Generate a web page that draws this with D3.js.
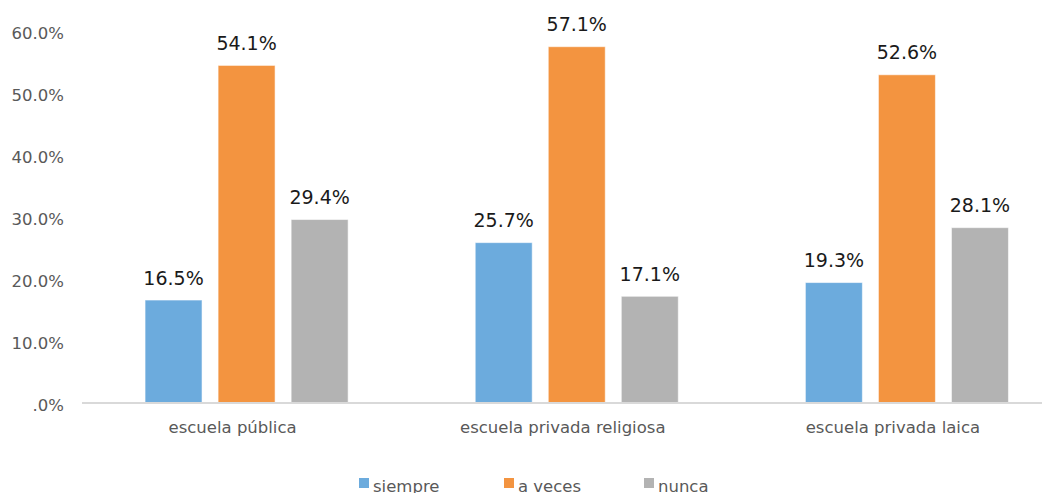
<!DOCTYPE html>
<html>
<head>
<meta charset="utf-8">
<script src="https://cdn.jsdelivr.net/npm/d3@7"></script>
<style>
  html, body { margin: 0; padding: 0; background: #fff; }
  svg { display: block; font-family: "DejaVu Sans", sans-serif; }
</style>
</head>
<body>
<svg id="chart" width="1042" height="493"></svg>
<script>
// Categories and series
const categories = ["escuela pública", "escuela privada religiosa", "escuela privada laica"];
const seriesNames = ["siempre", "a veces", "nunca"];
const siempre = [16.5, 25.7, 19.3];
const aVeces = [54.1, 57.1, 52.6];
const nunca = [29.4, 17.1, 28.1];
const yTicks = [0, 10, 20, 30, 40, 50, 60];
const seriesColors = ["#6CABDD", "#F39440", "#B3B3B3"];

const seriesValues = [siempre, aVeces, nunca];

const svg = d3.select("#chart");
const W = 1042;

// Scales
const x0 = d3.scaleBand()
  .domain(categories)
  .range([81.5, 1072])
  .paddingInner(0.385)
  .paddingOuter(0.1925);

const x1 = d3.scaleBand()
  .domain(seriesNames)
  .range([0, x0.bandwidth()])
  .paddingInner(0.22);

const y = d3.scaleLinear().domain([0, 60]).range([403, 28.6]);

const color = d3.scaleOrdinal().domain(seriesNames).range(seriesColors);

// Y axis labels (no axis line, no gridlines)
const fmtTick = v => v === 0 ? ".0%" : d3.format(".1f")(v) + "%";
svg.append("g")
  .selectAll("text")
  .data(yTicks)
  .join("text")
  .attr("x", 64)
  .attr("y", d => y(d) + 2.5 + d * 0.03)
  .attr("dy", "0.35em")
  .attr("text-anchor", "end")
  .attr("fill", "#595959")
  .attr("font-size", 16.5)
  .text(fmtTick);

// Bars
const groups = svg.append("g")
  .selectAll("g")
  .data(categories)
  .join("g")
  .attr("transform", d => `translate(${x0(d)},0)`);

const cells = groups.selectAll("g")
  .data((c, i) => seriesNames.map((s, j) => ({ series: s, value: seriesValues[j][i] })))
  .join("g");

cells.append("rect")
  .attr("x", d => x1(d.series))
  .attr("width", x1.bandwidth())
  .attr("y", d => y(d.value))
  .attr("height", d => y(0) - y(d.value))
  .attr("fill", d => color(d.series))
  .attr("stroke", "#ffffff")
  .attr("stroke-opacity", 0.55)
  .attr("stroke-width", 1);

// Value labels
cells.append("text")
  .attr("x", d => x1(d.series) + x1.bandwidth() / 2)
  .attr("y", d => y(d.value) - 15.5)
  .attr("text-anchor", "middle")
  .attr("fill", "#1a1a1a")
  .attr("font-size", 19)
  .text(d => d3.format(".1f")(d.value) + "%");

// Category axis line
svg.append("line")
  .attr("x1", 82).attr("x2", W)
  .attr("y1", 403).attr("y2", 403)
  .attr("stroke", "#d9d9d9")
  .attr("stroke-width", 2);

// Category labels
svg.append("g")
  .selectAll("text")
  .data(categories)
  .join("text")
  .attr("x", d => x0(d) + x0.bandwidth() / 2 - 14)
  .attr("y", 433)
  .attr("text-anchor", "middle")
  .attr("fill", "#595959")
  .attr("font-size", 16.5)
  .text(d => d);

// Legend
const legendX = [359, 504, 644];
const legend = svg.append("g")
  .selectAll("g")
  .data(seriesNames)
  .join("g")
  .attr("transform", (d, i) => `translate(${legendX[i]},478)`);

legend.append("rect")
  .attr("width", 10).attr("height", 10)
  .attr("fill", d => color(d));

legend.append("text")
  .attr("x", 14)
  .attr("y", 14)
  .attr("fill", "#595959")
  .attr("font-size", 16.5)
  .text(d => d);
</script>
</body>
</html>
